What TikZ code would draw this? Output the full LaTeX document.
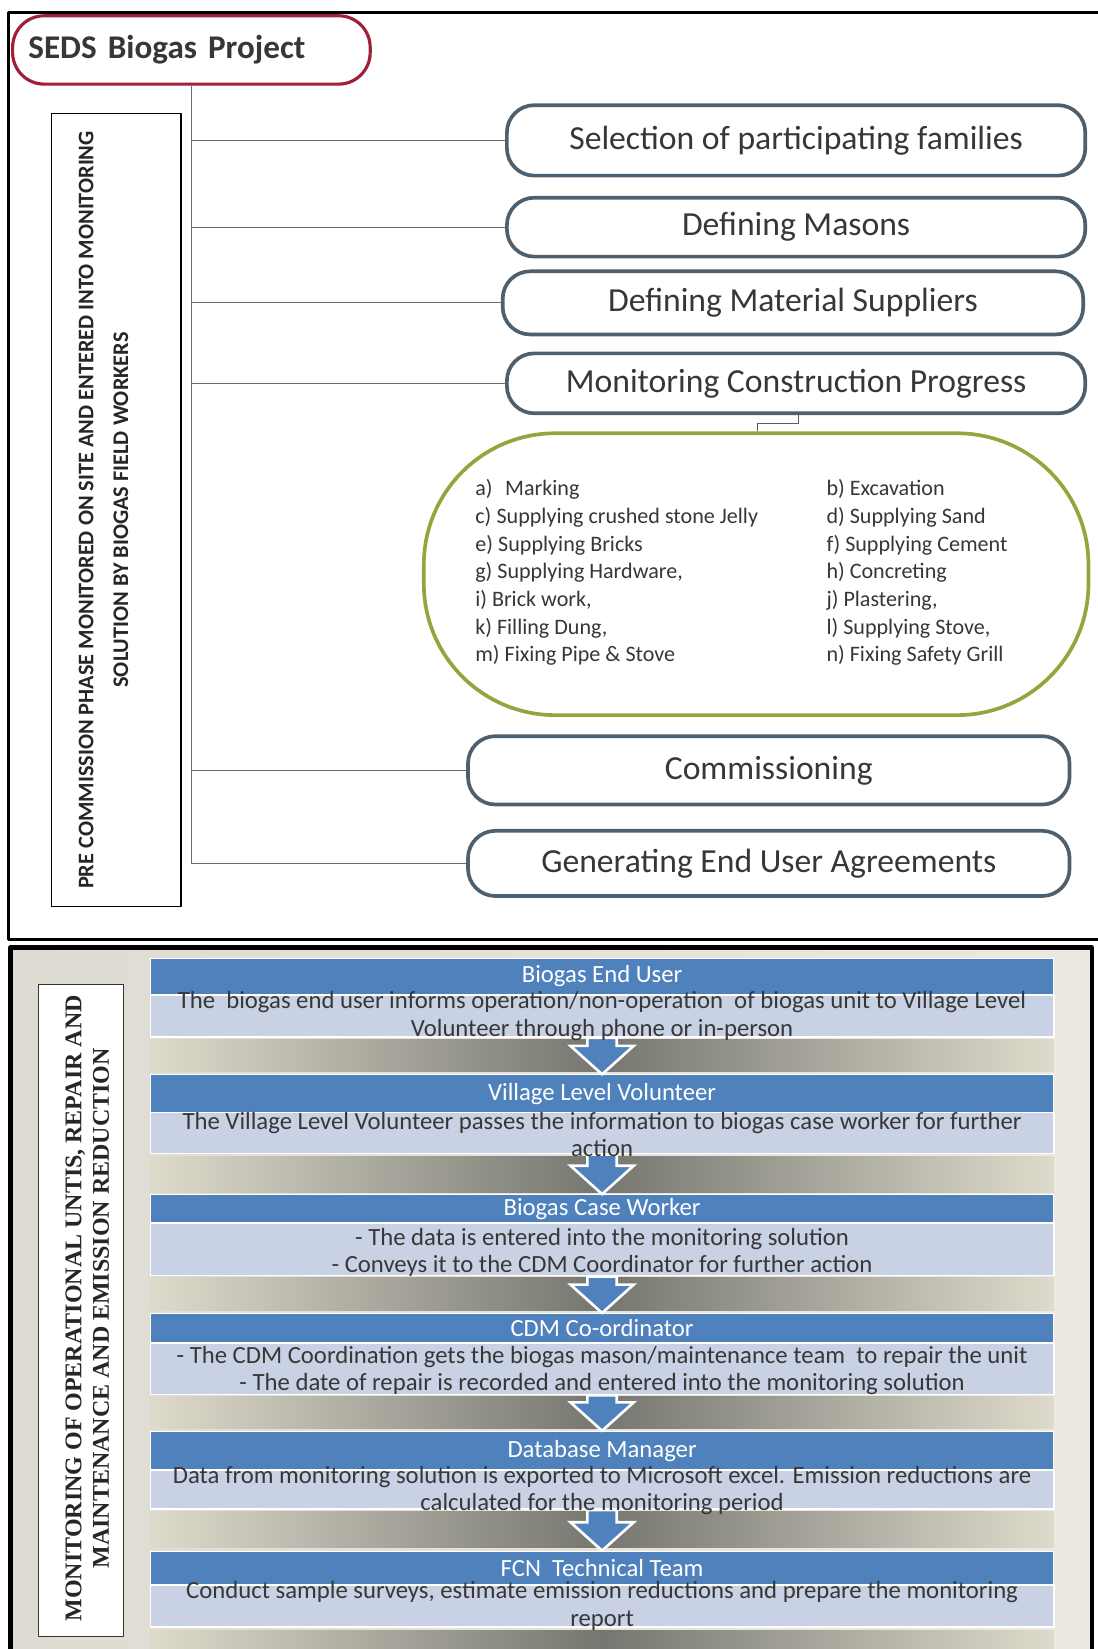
\documentclass[tikz,border=0pt]{standalone}
\usepackage{fontspec}
\setmainfont{Carlito}
\newfontfamily\serifside{Liberation Serif}
\usetikzlibrary{calc}
\definecolor{sedsred}{RGB}{158,32,58}
\definecolor{pillgray}{RGB}{78,96,110}
\definecolor{listgreen}{RGB}{152,163,60}
\definecolor{hdrblue}{RGB}{79,129,189}
\definecolor{bodyblue}{RGB}{200,210,228}
\definecolor{bandlight}{RGB}{222,219,204}
\definecolor{banddark}{RGB}{118,118,112}
\definecolor{panelbg}{RGB}{235,233,224}
\definecolor{panelleft}{RGB}{222,220,210}
\definecolor{txtgray}{RGB}{55,55,55}
% arrow between two flow rows
\newcommand\blockarrow[2]{%
  \path (#1.south) coordinate (ta) (#2.north) coordinate (tb);
  \draw[flowarrow] ($(ta)+(-14,0)$) -- ($(ta)+(14,0)$) -- ($(tb)+(14,-27)$) -- ($(tb)+(30,-27)$)
    -- (tb) -- ($(tb)+(-30,-27)$) -- ($(tb)+(-14,-27)$) -- cycle;}
\begin{document}
\begin{tikzpicture}[x=1pt, y=-1pt, line join=round,
  pill/.style={draw=pillgray, line width=3.5pt, fill=white, rounded corners=26pt, inner sep=0pt,
    text=txtgray, font=\fontsize{32}{38}\selectfont},
  hdr/.style={fill=hdrblue, draw=white, line width=1pt, minimum width=859pt, inner sep=0pt,
    text=white, font=\fontsize{23.5}{26}\selectfont},
  band/.style={fill=bodyblue, draw=white, line width=1.5pt, minimum width=859pt, inner sep=0pt},
  bodytxt/.style={align=center, text=txtgray, inner sep=0pt, font=\fontsize{23.5}{26}\selectfont},
  gradband/.style={left color=bandlight, right color=bandlight, middle color=banddark},
  flowarrow/.style={fill=hdrblue, draw=white, line width=2.5pt, line join=miter}]
\useasboundingbox (0,0) rectangle (1044,1568);

% ---- upper panel
\draw[line width=3pt] (1044,12) -- (8,12) -- (8,893) -- (1044,893);
\node[draw=sedsred, line width=3pt, fill=white, rounded corners=30pt, minimum width=340pt,
  minimum height=65pt, inner sep=0pt, text width=310pt, align=left,
  font=\bfseries\fontsize{31.5}{36}\selectfont, text=txtgray] (seds) at (182,47.5) {SEDS Biogas Project};
\node[draw, line width=1.2pt, minimum width=123pt, minimum height=754pt] (phasebox) at (110.5,485) {};
\node[rotate=90, align=center, inner sep=0pt, font=\bfseries\fontsize{21.2}{33}\selectfont,
  text=black!85] (phasetxt) at (98.5,485)
  {PRE COMMISSION PHASE MONITORED ON SITE AND ENTERED INTO MONITORING\\SOLUTION BY BIOGAS FIELD WORKERS};

\node[pill, minimum width=550pt, minimum height=67pt] (sel) at (757,133.5) {Selection of participating families};
\node[pill, minimum width=550pt, minimum height=56pt] (mas) at (757,216) {Defining Masons};
\node[pill, minimum width=552pt, minimum height=60pt] (sup) at (754,288) {Defining Material Suppliers};
\node[pill, minimum width=550pt, minimum height=57pt] (mon) at (757,364.5) {Monitoring Construction Progress};
\node[pill, minimum width=572pt, minimum height=65pt] (com) at (731,732.5) {Commissioning};
\node[pill, minimum width=572pt, minimum height=62pt] (agr) at (731,821) {Generating End User Agreements};

\node[draw=listgreen, line width=3.5pt, fill=white, rounded corners=125pt, minimum width=632pt,
  minimum height=268pt] (steps) at (719,546) {};
\node[inner sep=0pt, text=txtgray, font=\fontsize{21}{26.3}\selectfont] (items) at (705,545) {%
  \begin{tabular}{@{}p{334pt}@{}l@{}}
  a)\hspace{12pt}Marking & b) Excavation\\
  c)\hspace{5pt}Supplying crushed stone Jelly & d) Supplying Sand\\
  e)\hspace{5pt}Supplying Bricks & f) Supplying Cement\\
  g) Supplying Hardware, & h) Concreting\\
  i) Brick work, & j) Plastering,\\
  k) Filling Dung, & l) Supplying Stove,\\
  m) Fixing Pipe \& Stove & n) Fixing Safety Grill
  \end{tabular}};

% tree lines
\foreach \n/\y in {1/133.5, 2/216, 3/288, 4/364.5, 5/732.5, 6/821}
  \coordinate (t\n) at (182,\y);
\draw[pillgray!90, line width=1pt] (seds.south) -- (t6);
\foreach \n/\p in {1/sel, 2/mas, 3/sup, 4/mon, 5/com, 6/agr}
  \draw[pillgray!90, line width=1pt] (t\n) -- (\p.west);
\coordinate (k1) at (759,403);
\coordinate (k2) at (720,403);
\draw[pillgray, line width=1pt] (mon.south -| k1) -- (k1) -- (k2) -- (steps.north -| k2);

% ---- lower panel
\shade[left color=panelleft, right color=panelbg] (10,901) rectangle (1038,1568);
\draw[line width=4pt] (10,1568) -- (10,901) -- (1038,901) -- (1038,1568);
\node[draw=black!80, fill=white, line width=1pt, minimum width=80pt, minimum height=620pt] (opsbox) at (77,1246) {};
\node[rotate=90, align=center, inner sep=0pt, text=black!85,
  font=\serifside\bfseries\fontsize{22.8}{26}\selectfont] (opstxt) at (83,1244)
  {MONITORING OF OPERATIONAL UNTIS, REPAIR AND\\MAINTENANCE AND EMISSION REDUCTION};

\node[hdr, minimum height=35pt] (h1) at (572.5,928.5) {Biogas End User};
\node[band, minimum height=40pt] (b1) at (572.5,966) {};
\node[hdr, minimum height=36pt] (h2) at (572.5,1040) {Village Level Volunteer};
\node[band, minimum height=39pt] (b2) at (572.5,1077.5) {};
\node[hdr, minimum height=27pt] (h3) at (572.5,1149.5) {Biogas Case Worker};
\node[band, minimum height=50pt] (b3) at (572.5,1188) {};
\node[hdr, minimum height=28pt] (h4) at (572.5,1263) {CDM Co-ordinator};
\node[band, minimum height=49pt] (b4) at (572.5,1301.5) {};
\node[hdr, minimum height=37pt] (h5) at (572.5,1379.5) {Database Manager};
\node[band, minimum height=37pt] (b5) at (572.5,1416.5) {};
\node[hdr, minimum height=32pt] (h6) at (572.5,1491) {FCN\ \ Technical Team};
\node[band, minimum height=40pt] (b6) at (572.5,1527) {};

\foreach \ya/\yb in {988/1019, 1100/1134, 1215/1246, 1328/1358, 1437/1471, 1550/1568}
  \shade[gradband] (143,\ya) rectangle (1002,\yb);

\blockarrow{b1}{h2}
\blockarrow{b2}{h3}
\blockarrow{b3}{h4}
\blockarrow{b4}{h5}
\blockarrow{b5}{h6}

\node[bodytxt] (d1) at (572.5,966) {The\ \ biogas end user informs operation/non-operation\ \ of biogas unit to Village Level\\Volunteer through phone or in-person};
\node[bodytxt] (d2) at (572.5,1079) {The Village Level Volunteer passes the information to biogas case worker for further\\action};
\node[bodytxt] (d3) at (572.5,1191) {- The data is entered into the monitoring solution\\- Conveys it to the CDM Coordinator for further action};
\node[bodytxt] (d4) at (572.5,1303) {- The CDM Coordination gets the biogas mason/maintenance team\ \ to repair the unit\\- The date of repair is recorded and entered into the monitoring solution};
\node[bodytxt] (d5) at (572.5,1417) {Data from monitoring solution is exported to Microsoft excel. Emission reductions are\\calculated for the monitoring period};
\node[bodytxt] (d6) at (572.5,1527) {Conduct sample surveys, estimate emission reductions and prepare the monitoring\\report};
\end{tikzpicture}
\end{document}
